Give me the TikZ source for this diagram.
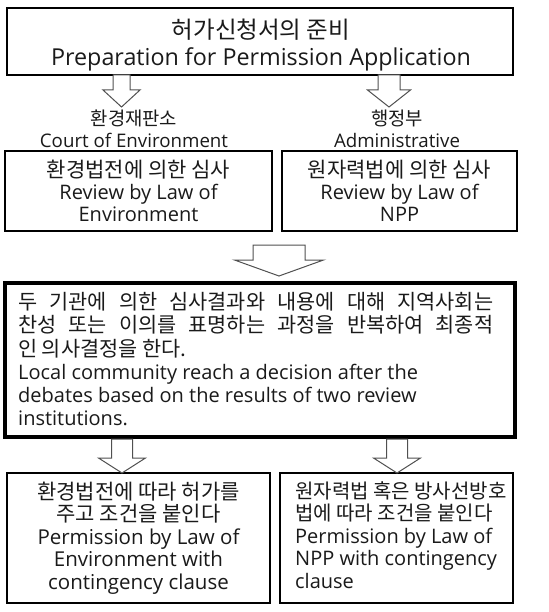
\documentclass[tikz,border=0pt]{standalone}
\usepackage{fontspec}
\setmainfont{Open Sans}
\newfontfamily\kr{Noto Sans CJK KR}
\newcommand\K[2]{{\kr\fontsize{#1}{10}\selectfont #2}}
\definecolor{txt}{HTML}{1A1A1A}
\definecolor{arr}{HTML}{505050}
\newcommand\myarrow[6]{% x, top, tip, shaft half, head half, head start
  \draw[arrowstyle] (#1-#4,#2) -- (#1+#4,#2) -- (#1+#4,#6) -- (#1+#5,#6) -- (#1,#3)
    -- (#1-#5,#6) -- (#1-#4,#6) -- cycle;}
\begin{document}
\begin{tikzpicture}[x=1pt,y=-1pt,
  box/.style={draw=black, line width=1.2pt, inner sep=0pt, text=txt},
  bigbox/.style={draw=black, line width=4pt, inner sep=0pt, text=txt},
  label/.style={inner sep=0pt, text=txt, align=center},
  arrowstyle/.style={draw=arr, line width=1pt, fill=white}]
\useasboundingbox (0,0) rectangle (548,612);
\fill[white] (0,0) rectangle (548,612);

\node[box, minimum width=506pt, minimum height=67pt] (top) at (260,41.5) {};
\node[label, font=\fontsize{23.3}{27.5}\selectfont] (toptext) at (261,45)
  {\K{23.5}{허가신청서의 준비}\\Preparation for Permission Application};

\node[label, font=\fontsize{18.7}{22}\selectfont] (lab1) at (134,129)
  {\K{18.8}{환경재판소}\\Court of Environment};
\node[label, font=\fontsize{18.7}{22}\selectfont] (lab2) at (397,129)
  {\K{18.8}{행정부}\\Administrative};

\node[box, minimum width=267pt, minimum height=80pt, align=center,
  font=\fontsize{20}{22}\selectfont] (env) at (138.5,191)
  {\K{21}{환경법전에 의한 심사}\\Review by Law of\\Environment};
\node[box, minimum width=235pt, minimum height=80pt, align=center,
  font=\fontsize{20}{22}\selectfont] (npp) at (399.5,191)
  {\K{21}{원자력법에 의한 심사}\\Review by Law of\\NPP};

\node[bigbox, minimum width=510pt, minimum height=154pt] (big) at (260,360) {};
\node[inner sep=0pt, text=txt, align=left, anchor=north west,
  font=\fontsize{20}{23.3}\selectfont] (bigtext) at (18,292)
  {\makebox[475pt][s]{\kr\fontsize{20.8}{10}\selectfont 두 기관에 의한 심사결과와 내용에 대해 지역사회는}\\
   \makebox[475pt][s]{\kr\fontsize{20.8}{10}\selectfont 찬성 또는 이의를 표명하는 과정을 반복하여 최종적}\\
   \K{20.8}{인 의사결정을 한다.}\\
   Local community reach a decision after the\\
   debates based on the results of two review\\
   institutions.};

\node[box, minimum width=263pt, minimum height=130pt, align=center,
  font=\fontsize{20.5}{22.6}\selectfont] (perm1) at (138.5,538)
  {\K{21}{환경법전에 따라 허가를}\\\K{21}{주고 조건을 붙인다}\\Permission by Law of\\Environment with\\contingency clause};
\node[box, minimum width=233pt, minimum height=130pt] (perm2) at (396.5,538) {};
\node[inner sep=0pt, text=txt, align=left, anchor=north west,
  font=\fontsize{20}{22.6}\selectfont] (perm2text) at (295,481)
  {\K{20}{원자력법 혹은 방사선방호}\\\K{20}{법에 따라 조건을 붙인다}\\Permission by Law of\\NPP with contingency\\clause};

\myarrow{121.5}{75}{107}{8.5}{18.5}{90}
\myarrow{389}{75}{107}{11}{21.5}{90}
\myarrow{279}{245}{276}{26}{44.5}{260}
\myarrow{122}{439}{473}{10.5}{23.5}{458}
\myarrow{397}{439}{473}{10.5}{23.5}{458}
\end{tikzpicture}
\end{document}
